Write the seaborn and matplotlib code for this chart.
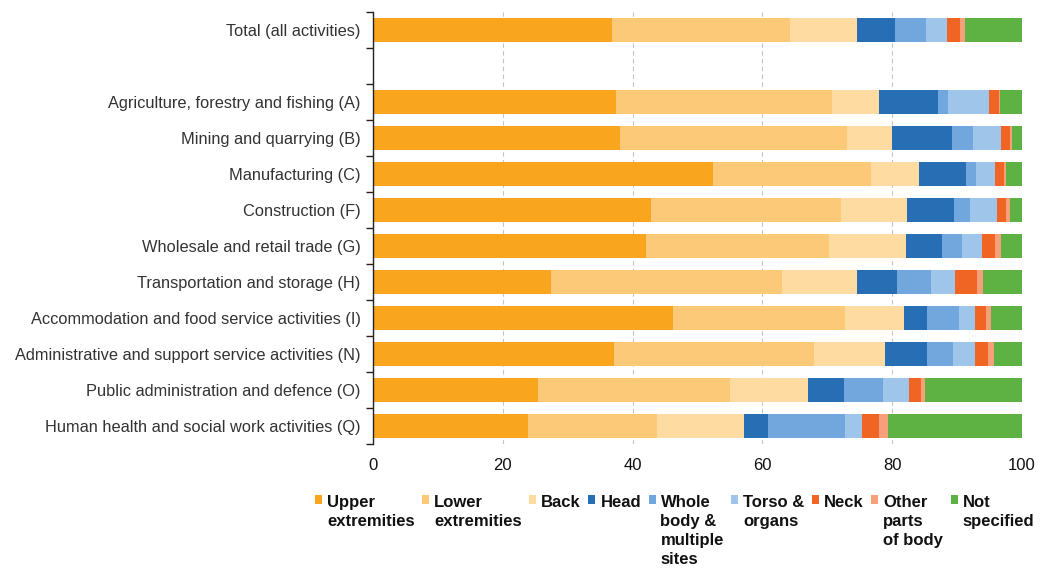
import numpy as np
import matplotlib
matplotlib.use("Agg")
import matplotlib.pyplot as plt
import seaborn as sns
from matplotlib.ticker import FixedLocator

categories = [
    "Total (all activities)",
    "",
    "Agriculture, forestry and fishing (A)",
    "Mining and quarrying (B)",
    "Manufacturing (C)",
    "Construction (F)",
    "Wholesale and retail trade (G)",
    "Transportation and storage (H)",
    "Accommodation and food service activities (I)",
    "Administrative and support service activities (N)",
    "Public administration and defence (O)",
    "Human health and social work activities (Q)",
]

series_names = ["Upper\nextremities", "Lower\nextremities", "Back", "Head",
                "Whole\nbody &\nmultiple\nsites", "Torso &\norgans", "Neck",
                "Other\nparts\nof body", "Not\nspecified"]

upper = [36.8, 0, 37.4, 38.0, 52.4, 42.9, 42.0, 27.4, 46.3, 37.1, 25.4, 23.9]
lower = [27.5, 0, 33.3, 35.0, 24.3, 29.2, 28.2, 35.6, 26.4, 30.8, 29.6, 19.8]
back = [10.3, 0, 7.2, 6.9, 7.5, 10.2, 11.9, 11.5, 9.1, 11.0, 12.1, 13.5]
head = [5.9, 0, 9.2, 9.3, 7.1, 7.2, 5.6, 6.3, 3.6, 6.5, 5.5, 3.7]
whole_body = [4.7, 0, 1.5, 3.3, 1.6, 2.5, 3.1, 5.2, 4.9, 3.9, 6.0, 11.8]
torso = [3.3, 0, 6.3, 4.2, 2.9, 4.2, 3.0, 3.7, 2.5, 3.5, 4.0, 2.7]
neck = [2.0, 0, 1.5, 1.5, 1.4, 1.3, 2.0, 3.4, 1.6, 2.0, 1.9, 2.5]
other = [0.7, 0, 0.2, 0.2, 0.3, 0.6, 0.9, 0.9, 0.8, 0.9, 0.5, 1.4]
not_specified = [8.8, 0, 3.4, 1.6, 2.5, 1.9, 3.3, 6.0, 4.8, 4.3, 15.0, 20.7]

colors = ["#F9A51D", "#FBC977", "#FDDBA1", "#286EB4", "#72A7DE",
          "#A0C5EA", "#F06424", "#F5A07A", "#5EB243"]

series_values = [upper, lower, back, head, whole_body, torso, neck, other, not_specified]

sns.set_theme(style="white")
plt.rcParams["font.family"] = ["Liberation Sans", "DejaVu Sans"]
text_color = "#333333"

fig = plt.figure(figsize=(10.44, 5.69), dpi=100)
ax = fig.add_axes([373 / 1044, 1 - 444 / 569, (1022 - 373) / 1044, (444 - 12) / 569])

left = np.zeros(len(categories))
for name, vals, col in zip(series_names, series_values, colors):
    ax.barh(categories, vals, left=left, color=col, height=0.67, label=name,
            linewidth=0)
    left = left + np.array(vals)

ax.set_xlim(0, 100)
ax.set_ylim(len(categories) - 0.5, -0.5)
ax.set_xticks([0, 20, 40, 60, 80, 100])
ax.tick_params(axis="x", length=0, labelsize=12, colors="#111111", pad=10)
ax.tick_params(axis="y", which="major", length=0, labelsize=11.8, colors=text_color, pad=9)
ax.yaxis.set_minor_locator(FixedLocator(np.arange(-0.5, len(categories), 1.0)))
ax.tick_params(axis="y", which="minor", length=5, width=1, color="#222222", left=True)

ax.grid(axis="x", linestyle=(0, (4, 3)), color="#C4C4C4", linewidth=0.8)
ax.set_axisbelow(True)
for s in ["top", "right", "bottom"]:
    ax.spines[s].set_visible(False)
ax.spines["left"].set_color("#222222")
ax.spines["left"].set_linewidth(1)
ax.set_ylabel("")
ax.set_xlabel("")

leg = fig.legend(loc="upper left", bbox_to_anchor=(315 / 1044, 1 - 495 / 569),
                 ncol=9, frameon=False, fontsize=12, handlelength=0.42,
                 handleheight=0.42, handletextpad=0.3, columnspacing=0.45,
                 borderaxespad=0, borderpad=0)
for t in leg.get_texts():
    t.set_fontweight("bold")
    t.set_color("#111111")
    t.set_linespacing(1.32)
    t.set_multialignment("left")
# align legend markers with the first line of each label
for col in leg._legend_handle_box.get_children():
    col.align = "top"
    for item in col.get_children():
        item.align = "top"
leg._legend_handle_box.align = "top"

fig.savefig("out.png", dpi=100)
